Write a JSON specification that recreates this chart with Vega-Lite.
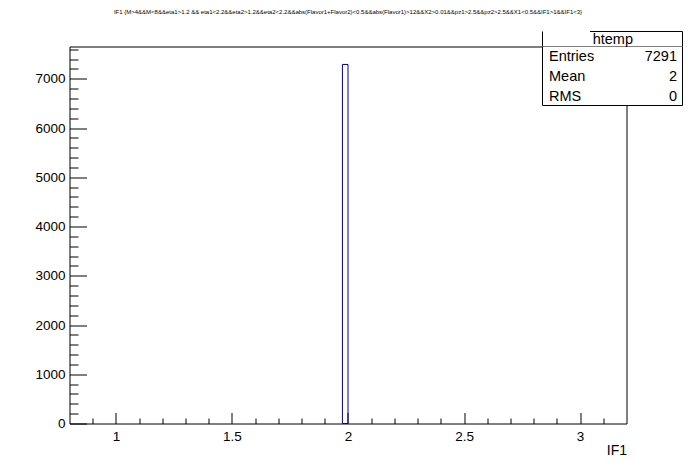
{
  "$schema": "https://vega.github.io/schema/vega-lite/v6.json",
  "width": 557,
  "height": 377,
  "autosize": {"type": "none"},
  "padding": {"left": 69.5, "top": 46.5, "right": 69.5, "bottom": 48.5},
  "background": "white",
  "config": {
    "font": "Liberation Sans",
    "view": {"stroke": "black", "strokeWidth": 1},
    "axis": {
      "domain": false,
      "grid": false,
      "tickColor": "black",
      "tickWidth": 1,
      "labelColor": "black",
      "labelFont": "Liberation Sans",
      "labelFontSize": 13.5,
      "titleFont": "Liberation Sans",
      "titleFontWeight": "normal",
      "titleColor": "black",
      "titleFontSize": 14
    }
  },
  "title": {
    "text": "IF1 {M>4&&M<8&&eta1>1.2 && eta1<2.2&&eta2>1.2&&eta2<2.2&&abs(Flavor1+Flavor2)<0.5&&abs(Flavor1)>12&&X2>0.01&&pz1>2.5&&pz2>2.5&&X1<0.5&&IF1>1&&IF1<3}",
    "fontSize": 6,
    "font": "Liberation Sans",
    "fontWeight": "normal",
    "color": "black",
    "anchor": "middle",
    "frame": "group",
    "baseline": "alphabetic",
    "offset": 11
  },
  "datasets": {
    "hist": [{"lo": 1.976, "hi": 2.0, "count": 7291}],
    "stats": [
      {"k": "Entries", "v": "7291"},
      {"k": "Mean", "v": "2"},
      {"k": "RMS", "v": "0"}
    ],
    "one": [{}]
  },
  "layer": [
    {
      "layer": [
        {
          "data": {"name": "hist"},
          "mark": {"type": "bar", "filled": false, "color": "#000099", "strokeWidth": 1, "orient": "vertical"},
          "encoding": {
            "x": {
              "field": "lo",
              "type": "quantitative",
              "scale": {"domain": [0.8, 3.2], "nice": false, "zero": false, "padding": 0},
              "axis": {
                "orient": "bottom",
                "values": [1, 1.5, 2, 2.5, 3],
                "format": "~g",
                "tickSize": -11,
                "labelPadding": 17,
                "title": "IF1",
                "titleAnchor": "end",
                "titleAlign": "right",
                "titlePadding": 0
              }
            },
            "x2": {"field": "hi"},
            "y": {
              "field": "count",
              "type": "quantitative",
              "scale": {"domain": [0, 7655.55], "nice": false, "padding": 0},
              "axis": {
                "orient": "left",
                "values": [0, 1000, 2000, 3000, 4000, 5000, 6000, 7000],
                "format": "d",
                "tickSize": -17,
                "labelPadding": 21.5,
                "title": null
              }
            },
            "y2": {"datum": 0}
          }
        },
        {
          "data": {"name": "hist"},
          "mark": {"type": "point", "opacity": 0},
          "encoding": {
            "x": {
              "field": "lo",
              "type": "quantitative",
              "axis": {
                "orient": "bottom",
                "values": [0.9, 1.1, 1.2, 1.3, 1.4, 1.6, 1.7, 1.8, 1.9, 2.1, 2.2, 2.3, 2.4, 2.6, 2.7, 2.8, 2.9, 3.1],
                "labels": false,
                "tickSize": -5.5,
                "title": null
              }
            },
            "y": {
              "field": "count",
              "type": "quantitative",
              "axis": {
                "orient": "left",
                "values": [200, 400, 600, 800, 1200, 1400, 1600, 1800, 2200, 2400, 2600, 2800, 3200, 3400, 3600, 3800, 4200, 4400, 4600, 4800, 5200, 5400, 5600, 5800, 6200, 6400, 6600, 6800, 7200, 7400, 7600],
                "labels": false,
                "tickSize": -8.5,
                "title": null
              }
            }
          }
        }
      ],
      "resolve": {"axis": {"x": "independent", "y": "independent"}}
    },
    {
      "data": {"name": "one"},
      "layer": [
        {
          "mark": {"type": "rect", "fill": "white", "stroke": "black", "strokeWidth": 1},
          "encoding": {
            "x": {"datum": 0.779454, "type": "quantitative", "scale": {"domain": [0, 1], "range": [-69.5, 626.5], "nice": false, "zero": false}, "axis": null},
            "x2": {"datum": 0.980603},
            "y": {"datum": 0.776483, "type": "quantitative", "scale": {"domain": [0, 1], "range": [425.5, -46.5], "nice": false, "zero": false}, "axis": null},
            "y2": {"datum": 0.901483}
          }
        },
        {
          "mark": {"type": "rect", "fill": "white", "strokeWidth": 0},
          "encoding": {
            "x": {"datum": 0.779454, "type": "quantitative"},
            "x2": {"datum": 0.980603},
            "y": {"datum": 0.901483, "type": "quantitative"},
            "y2": {"datum": 0.933263}
          }
        },
        {
          "mark": {"type": "rule", "color": "black", "strokeWidth": 1},
          "encoding": {
            "x": {"datum": 0.779454, "type": "quantitative"},
            "y": {"datum": 0.901483, "type": "quantitative"},
            "y2": {"datum": 0.933263}
          }
        },
        {
          "mark": {"type": "rule", "color": "black", "strokeWidth": 1},
          "encoding": {
            "x": {"datum": 0.980603, "type": "quantitative"},
            "y": {"datum": 0.901483, "type": "quantitative"},
            "y2": {"datum": 0.933263}
          }
        },
        {
          "mark": {"type": "rule", "color": "black", "strokeWidth": 1},
          "encoding": {
            "x": {"datum": 0.8477, "type": "quantitative"},
            "x2": {"datum": 0.980603},
            "y": {"datum": 0.933263, "type": "quantitative"}
          }
        },
        {
          "mark": {"type": "text", "text": "htemp", "fontSize": 14.5, "font": "Liberation Sans", "color": "black", "align": "center", "baseline": "alphabetic"},
          "encoding": {
            "x": {"datum": 0.8805, "type": "quantitative"},
            "y": {"datum": 0.9062, "type": "quantitative"}
          }
        }
      ]
    },
    {
      "data": {"name": "stats"},
      "layer": [
        {
          "mark": {"type": "text", "fontSize": 14.5, "font": "Liberation Sans", "color": "black", "align": "left", "baseline": "middle"},
          "encoding": {
            "x": {"datum": 0.7888, "type": "quantitative", "scale": {"domain": [0, 1], "range": [-69.5, 626.5], "nice": false, "zero": false}, "axis": null},
            "y": {"field": "k", "type": "nominal", "scale": {"domain": ["Entries", "Mean", "RMS"], "range": [1, 60], "paddingInner": 0, "paddingOuter": 0}, "axis": null},
            "text": {"field": "k"}
          }
        },
        {
          "mark": {"type": "text", "fontSize": 14.5, "font": "Liberation Sans", "color": "black", "align": "right", "baseline": "middle"},
          "encoding": {
            "x": {"datum": 0.9727, "type": "quantitative"},
            "y": {"field": "k", "type": "nominal"},
            "text": {"field": "v"}
          }
        }
      ]
    }
  ],
  "resolve": {"scale": {"x": "independent", "y": "independent"}}
}
